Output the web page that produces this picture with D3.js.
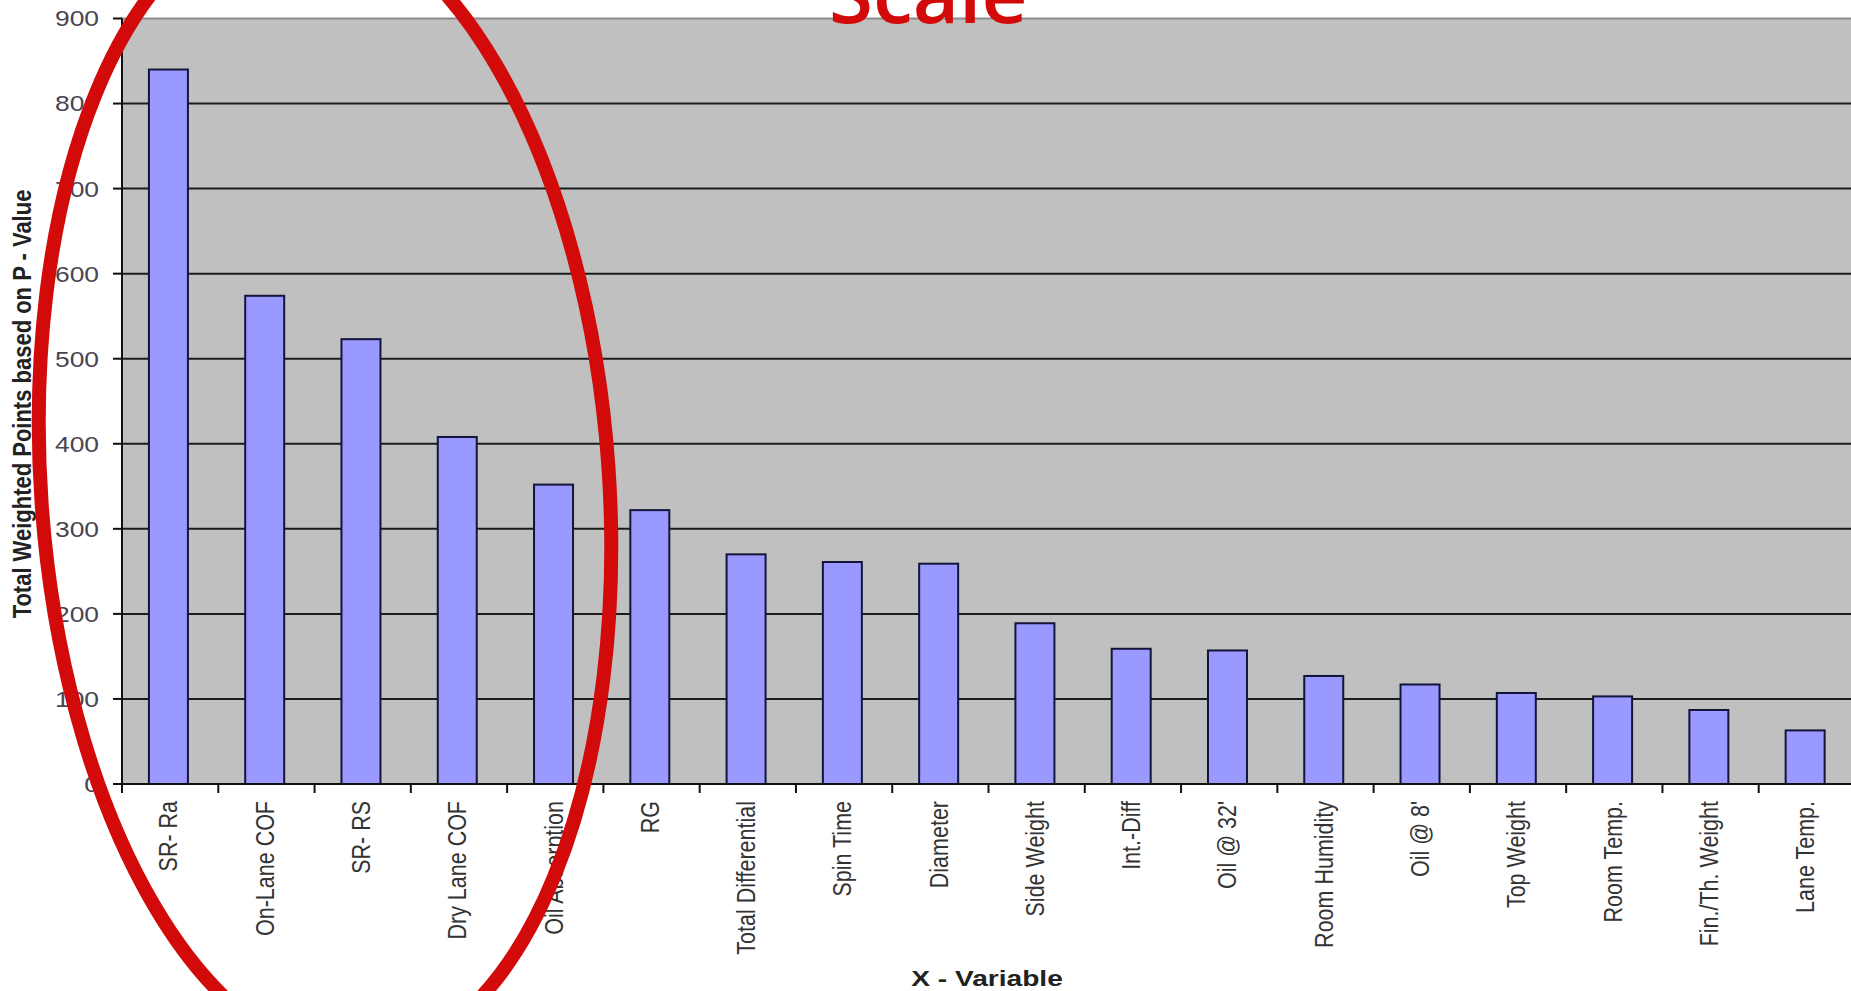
<!DOCTYPE html>
<html>
<head>
<meta charset="utf-8">
<script src="https://cdn.jsdelivr.net/npm/d3@7"></script>
<style>
  html, body { margin: 0; padding: 0; background: #fff; overflow: hidden; }
  svg { display: block; }
</style>
</head>
<body>
<svg id="chart" width="1851" height="991"></svg>
<script>
// Weighted points per variable, ordered largest to smallest
const categories = [
  "SR- Ra", "On-Lane COF", "SR- RS", "Dry Lane COF", "Oil Absorption", "RG",
  "Total Differential", "Spin Time", "Diameter", "Side Weight", "Int.-Diff",
  "Oil @ 32'", "Room Humidity", "Oil @ 8'", "Top Weight", "Room Temp.",
  "Fin./Th. Weight", "Lane Temp."
];
const points = [840, 574, 523, 408, 352, 322, 270, 261, 259, 189, 159, 157, 127, 117, 107, 103, 87, 63];
const yTicks = [0, 100, 200, 300, 400, 500, 600, 700, 800, 900];
const yTitle = "Total Weighted Points based on P - Value";
const xTitle = "X - Variable";
const noteText = "Scale";

const svg = d3.select("#chart");
const W = 1851, H = 991;
svg.append("rect").attr("width", W).attr("height", H).attr("fill", "#ffffff");

const plot = { left: 122, right: 1855, top: 18.5, bottom: 784 };
const font = "'Liberation Sans', Arial, sans-serif";
const stretch = 1.2; // glyphs are drawn slightly wide

const x = d3.scaleBand()
  .domain(categories)
  .range([plot.left, plot.right])
  .paddingInner(0.595)
  .paddingOuter(0.2975)
  .align(0.47);
const xEdges = d3.scaleLinear().domain([0, categories.length]).range([plot.left, plot.right]);
const y = d3.scaleLinear().domain([0, 900]).range([plot.bottom, plot.top]);

// plot area
svg.append("rect")
  .attr("x", plot.left).attr("y", plot.top)
  .attr("width", plot.right - plot.left).attr("height", plot.bottom - plot.top)
  .attr("fill", "#c0c0c0")
  .attr("stroke", "#8c8c8c").attr("stroke-width", 2);

// horizontal gridlines
svg.append("g").selectAll("line")
  .data(yTicks.filter(t => t > 0 && t < 900))
  .join("line")
  .attr("x1", plot.left).attr("x2", plot.right)
  .attr("y1", d => y(d)).attr("y2", d => y(d))
  .attr("stroke", "#1c1c1c").attr("stroke-width", 2);

// bars
svg.append("g").selectAll("rect")
  .data(points)
  .join("rect")
  .attr("x", (d, i) => x(categories[i]))
  .attr("width", x.bandwidth())
  .attr("y", d => y(d))
  .attr("height", d => y(0) - y(d))
  .attr("fill", "#9999ff")
  .attr("stroke", "#14143a").attr("stroke-width", 2);

// y axis
const yAxis = svg.append("g");
yAxis.append("line")
  .attr("x1", plot.left).attr("x2", plot.left)
  .attr("y1", plot.top).attr("y2", plot.bottom)
  .attr("stroke", "#111").attr("stroke-width", 2);
yAxis.selectAll("line.tick")
  .data(yTicks).join("line").attr("class", "tick")
  .attr("x1", plot.left - 9).attr("x2", plot.left)
  .attr("y1", d => y(d)).attr("y2", d => y(d))
  .attr("stroke", "#111").attr("stroke-width", 2);
yAxis.selectAll("text")
  .data(yTicks).join("text")
  .attr("transform", d => `translate(${plot.left - 23},${y(d)}) scale(${stretch},1)`)
  .attr("dy", "0.36em")
  .attr("text-anchor", "end")
  .attr("font-family", font).attr("font-size", 22)
  .attr("fill", "#4a4452")
  .text(d => d);

// x axis
const xAxis = svg.append("g");
xAxis.append("line")
  .attr("x1", plot.left).attr("x2", plot.right)
  .attr("y1", plot.bottom).attr("y2", plot.bottom)
  .attr("stroke", "#111").attr("stroke-width", 2);
xAxis.selectAll("line.tick")
  .data(d3.range(categories.length + 1)).join("line").attr("class", "tick")
  .attr("x1", d => xEdges(d)).attr("x2", d => xEdges(d))
  .attr("y1", plot.bottom).attr("y2", plot.bottom + 9)
  .attr("stroke", "#111").attr("stroke-width", 2);
xAxis.selectAll("text")
  .data(categories).join("text")
  .attr("transform", d => `translate(${x(d) + x.bandwidth() / 2 + 9},${plot.bottom + 17}) scale(${stretch},1) rotate(-90)`)
  .attr("text-anchor", "end")
  .attr("font-family", font).attr("font-size", 21.5)
  .attr("fill", "#333")
  .text(d => d);

// axis titles
svg.append("text")
  .attr("transform", `translate(31,404) scale(${stretch},1) rotate(-90)`)
  .attr("text-anchor", "middle")
  .attr("font-family", font).attr("font-size", 22).attr("font-weight", "bold")
  .attr("fill", "#222")
  .text(yTitle);
svg.append("text")
  .attr("transform", `translate(987,986) scale(1.25,1)`)
  .attr("text-anchor", "middle")
  .attr("font-family", font).attr("font-size", 22.5).attr("font-weight", "bold")
  .attr("fill", "#222")
  .text(xTitle);

// red annotation: ring round the leading variables and a heading
svg.append("ellipse")
  .attr("cx", 325).attr("cy", 485).attr("rx", 284).attr("ry", 575)
  .attr("transform", "rotate(-4.1,325,485)")
  .attr("fill", "none")
  .attr("stroke", "#d20a0a").attr("stroke-width", 14);
svg.append("text")
  .attr("x", 829).attr("y", 23)
  .attr("font-family", "'Open Sans', sans-serif").attr("font-size", 80).attr("font-weight", 600)
  .attr("fill", "#d20a0a")
  .text(noteText);
</script>
</body>
</html>
